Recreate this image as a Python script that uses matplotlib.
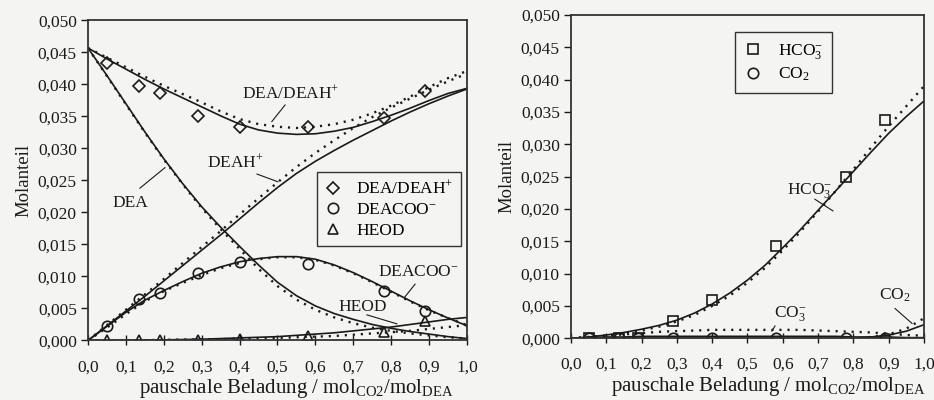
import matplotlib
matplotlib.use('Agg')
import matplotlib.pyplot as plt
from matplotlib.ticker import FuncFormatter, MultipleLocator

plt.rcParams['font.family'] = ['Liberation Serif', 'DejaVu Serif']
plt.rcParams['mathtext.fontset'] = 'custom'
plt.rcParams['mathtext.rm'] = 'Liberation Serif'
plt.rcParams['mathtext.it'] = 'Liberation Serif:italic'
plt.rcParams['font.size'] = 12.5

# loading grid for the model curves (mol CO2 / mol DEA)
loading = [0.00, 0.05, 0.10, 0.15, 0.20, 0.25, 0.30, 0.35, 0.40, 0.45, 0.50,
           0.55, 0.60, 0.65, 0.70, 0.75, 0.80, 0.85, 0.90, 0.95, 1.00]

# measured loadings (NMR)
meas_loading = [0.05, 0.135, 0.19, 0.29, 0.40, 0.58, 0.78, 0.89]

# left panel: measured mole fractions
meas_dea_deah = [0.0434, 0.0398, 0.0386, 0.0351, 0.0333, 0.0333, 0.0348, 0.0390]
meas_deacoo = [0.0023, 0.0065, 0.0074, 0.0106, 0.0123, 0.0120, 0.0077, 0.0046]
meas_heod = [0.0, 0.0, 0.0, 0.0, 0.0003, 0.0007, 0.0013, 0.0030]

# left panel: model 1 (solid)
dea_deah_solid = [0.0457, 0.0440, 0.0424, 0.0408, 0.0393, 0.0379, 0.0365, 0.0351, 0.0338,
                  0.0329, 0.0324, 0.0322, 0.0323, 0.0327, 0.0333, 0.0342, 0.0352, 0.0363,
                  0.0375, 0.0386, 0.0394]
dea_solid = [0.0457, 0.0414, 0.0370, 0.0326, 0.0284, 0.0245, 0.0209, 0.0177, 0.0147, 0.0118,
             0.0091, 0.0070, 0.0054, 0.0042, 0.0033, 0.0025, 0.0019, 0.0014, 0.0010, 0.0006,
             0.0003]
deah_solid = [0.0, 0.0023, 0.0046, 0.0069, 0.0093, 0.0117, 0.0141, 0.0165, 0.0190, 0.0215,
              0.0239, 0.0261, 0.0280, 0.0297, 0.0313, 0.0328, 0.0343, 0.0357, 0.0370, 0.0382,
              0.0393]
deacoo_solid = [0.0, 0.0022, 0.0044, 0.0063, 0.0078, 0.0092, 0.0105, 0.0115, 0.0123, 0.0128,
                0.0131, 0.0131, 0.0127, 0.0118, 0.0106, 0.0092, 0.0077, 0.0062, 0.0048, 0.0035,
                0.0023]
heod_solid = [0.0, 0.0, 0.00002, 0.00005, 0.0001, 0.00015, 0.0002, 0.0003, 0.0004, 0.0005,
              0.0006, 0.0008, 0.0010, 0.0012, 0.0015, 0.0018, 0.0021, 0.0025, 0.0029, 0.0033,
              0.0036]

# left panel: model 2 (dotted)
dea_deah_dot = [0.0457, 0.0442, 0.0427, 0.0412, 0.0398, 0.0385, 0.0372, 0.0358, 0.0346,
                0.0338, 0.0334, 0.0332, 0.0334, 0.0338, 0.0345, 0.0355, 0.0367, 0.0381,
                0.0396, 0.0410, 0.0421]
dea_dot = [0.0457, 0.0413, 0.0369, 0.0325, 0.0283, 0.0244, 0.0207, 0.0174, 0.0143, 0.0112,
           0.0085, 0.0064, 0.0048, 0.0036, 0.0027, 0.0020, 0.0015, 0.0011, 0.0008, 0.0005,
           0.0003]
deah_dot = [0.0, 0.0024, 0.0048, 0.0072, 0.0096, 0.0121, 0.0146, 0.0171, 0.0197, 0.0222,
            0.0247, 0.0271, 0.0293, 0.0313, 0.0332, 0.0349, 0.0364, 0.0378, 0.0392, 0.0405,
            0.0417]
deacoo_dot = [0.0, 0.0020, 0.0041, 0.0061, 0.0077, 0.0090, 0.0102, 0.0113, 0.0121, 0.0127,
              0.0130, 0.0130, 0.0126, 0.0117, 0.0105, 0.0091, 0.0076, 0.0061, 0.0047, 0.0035,
              0.0024]
heod_dot = [0.0, 0.0, 0.00002, 0.00005, 0.0001, 0.00015, 0.0002, 0.0002, 0.0003, 0.0003,
            0.0004, 0.0005, 0.0006, 0.0007, 0.0009, 0.0011, 0.0013, 0.0015, 0.0018, 0.0021,
            0.0024]

# right panel: measured mole fractions
meas_hco3 = [0.0, 0.0, 0.0, 0.0027, 0.0059, 0.0142, 0.0250, 0.0337]
meas_co2 = [0.0, 0.0, 0.0, 0.0, 0.0, 0.0, 0.0, 0.0]

# right panel: model 1 (solid)
hco3_solid = [0.0, 0.0002, 0.0005, 0.0009, 0.0014, 0.0020, 0.0028, 0.0039, 0.0053, 0.0070,
              0.0090, 0.0113, 0.0140, 0.0168, 0.0198, 0.0228, 0.0258, 0.0288, 0.0317, 0.0343,
              0.0367]
co3_solid = [0.0, 0.0001, 0.0002, 0.0002, 0.0003, 0.0003, 0.0003, 0.0003, 0.0003, 0.0003,
             0.0003, 0.0003, 0.0003, 0.0003, 0.0003, 0.0003, 0.0002, 0.0002, 0.0002, 0.0001,
             0.0001]
co2_solid = [0.0, 0.0, 0.0, 0.0, 0.0, 0.0, 0.0, 0.0, 0.0, 0.0, 0.0, 0.0, 0.0, 0.0, 0.0, 0.0,
             0.0, 0.0002, 0.0005, 0.0011, 0.0021]

# right panel: model 2 (dotted)
hco3_dot = [0.0, 0.0002, 0.0004, 0.0008, 0.0012, 0.0018, 0.0026, 0.0036, 0.0050, 0.0066,
            0.0086, 0.0109, 0.0136, 0.0165, 0.0196, 0.0228, 0.0261, 0.0295, 0.0328, 0.0359,
            0.0390]
co3_dot = [0.0, 0.0002, 0.0004, 0.0006, 0.0008, 0.0010, 0.0011, 0.0012, 0.0013, 0.0013,
           0.0013, 0.0013, 0.0013, 0.0013, 0.0012, 0.0011, 0.0010, 0.0009, 0.0007, 0.0005,
           0.0004]
co2_dot = [0.0, 0.0, 0.0, 0.0, 0.0, 0.0, 0.0, 0.0, 0.0, 0.0, 0.0, 0.0, 0.0, 0.0, 0.0, 0.0,
           0.0, 0.0002, 0.0006, 0.0015, 0.0031]

ink = '#1a1a1a'
paper = '#f4f4f2'
solid_kw = dict(color=ink, lw=1.2, ls='-')
dot_kw = dict(color=ink, lw=1.7, ls=(0, (0.9, 2.5)))
mark_kw = dict(ls='none', mfc='none', mec=ink, mew=1.2)


def style_axes(ax, label_x):
    ax.set_facecolor(paper)
    ax.set_xlim(0, 1.0)
    ax.set_ylim(0, 0.050)
    ax.xaxis.set_major_locator(MultipleLocator(0.1))
    ax.yaxis.set_major_locator(MultipleLocator(0.005))
    ax.xaxis.set_major_formatter(FuncFormatter(lambda v, p: f'{v:.1f}'.replace('.', ',')))
    ax.yaxis.set_major_formatter(FuncFormatter(lambda v, p: f'{v:.3f}'.replace('.', ',')))
    ax.tick_params(axis='x', direction='inout', length=7, width=1.0, colors=ink, pad=10)
    ax.tick_params(axis='y', direction='out', length=5, width=1.0, colors=ink, pad=3)
    for s in ax.spines.values():
        s.set_linewidth(1.3)
        s.set_color('#333333')
    ax.set_ylabel('Molanteil', color=ink, labelpad=4, fontsize=13.5)
    ax.set_xlabel(r'pauschale Beladung / mol$_{\mathrm{CO2}}$/mol$_{\mathrm{DEA}}$',
                  color=ink, labelpad=0, fontsize=15)
    ax.xaxis.set_label_coords(label_x, -0.115)


def note(ax, text, xy, line):
    ax.text(xy[0], xy[1], text, ha='center', va='center', color=ink)
    ax.plot(line[0], line[1], color=ink, lw=0.8)


fig = plt.figure(figsize=(9.34, 4.0), dpi=100, facecolor=paper)
ax1 = fig.add_axes([0.0942, 0.1488, 0.4058, 0.8000])
ax2 = fig.add_axes([0.6113, 0.1543, 0.3780, 0.8083])

# left panel: DEA species
for curve in (dea_deah_solid, dea_solid, deah_solid, deacoo_solid, heod_solid):
    ax1.plot(loading, curve, **solid_kw)
for curve in (dea_deah_dot, dea_dot, deah_dot, deacoo_dot, heod_dot):
    ax1.plot(loading, curve, **dot_kw)
ax1.plot(meas_loading, meas_dea_deah, marker='D', ms=6, label=r'DEA/DEAH$^{+}$', **mark_kw)
ax1.plot(meas_loading, meas_deacoo, marker='o', ms=7.5, label=r'DEACOO$^{-}$', **mark_kw)
ax1.plot(meas_loading, meas_heod, marker='^', ms=7.5, label='HEOD', **mark_kw)

note(ax1, r'DEA/DEAH$^{+}$', (0.535, 0.0386), ([0.485, 0.520], [0.0342, 0.0368]))
note(ax1, r'DEAH$^{+}$', (0.388, 0.0278), ([0.446, 0.501], [0.0260, 0.0248]))
note(ax1, 'DEA', (0.113, 0.0215), ([0.137, 0.203], [0.0238, 0.0270]))
note(ax1, r'DEACOO$^{-}$', (0.871, 0.0107), ([0.863, 0.836], [0.0088, 0.0068]))
note(ax1, 'HEOD', (0.726, 0.0052), ([0.736, 0.815], [0.0040, 0.0026]))

leg1 = ax1.legend(loc='upper left', bbox_to_anchor=(0.604, 0.527), frameon=True,
                  fancybox=False, edgecolor='#333333', facecolor=paper, framealpha=1,
                  handlelength=1.0, handletextpad=0.8, borderpad=0.45, labelspacing=0.25,
                  borderaxespad=0)
leg1.get_frame().set_linewidth(1.0)

# right panel: carbonate species
for curve in (hco3_solid, co3_solid, co2_solid):
    ax2.plot(loading, curve, **solid_kw)
for curve in (hco3_dot, co3_dot, co2_dot):
    ax2.plot(loading, curve, **dot_kw)
ax2.plot(meas_loading, meas_hco3, marker='s', ms=7.5, label=r'HCO$_{3}^{-}$', **mark_kw)
ax2.plot(meas_loading, meas_co2, marker='o', ms=7.5, label=r'CO$_{2}$', **mark_kw)

note(ax2, r'HCO$_{3}^{-}$', (0.677, 0.0229), ([0.691, 0.742], [0.0215, 0.0197]))
note(ax2, r'CO$_{3}^{-}$', (0.620, 0.0038), ([0.578, 0.569], [0.0019, 0.0011]))
note(ax2, r'CO$_{2}$', (0.918, 0.0066), ([0.918, 0.966], [0.0046, 0.0023]))

leg2 = ax2.legend(loc='upper left', bbox_to_anchor=(0.465, 0.947), frameon=True,
                  fancybox=False, edgecolor='#333333', facecolor=paper, framealpha=1,
                  handlelength=1.0, handletextpad=0.9, borderpad=0.55, labelspacing=0.3,
                  borderaxespad=0)
leg2.get_frame().set_linewidth(1.0)

style_axes(ax1, 0.55)
style_axes(ax2, 0.56)

fig.savefig('out.png', dpi=100, facecolor=paper)
